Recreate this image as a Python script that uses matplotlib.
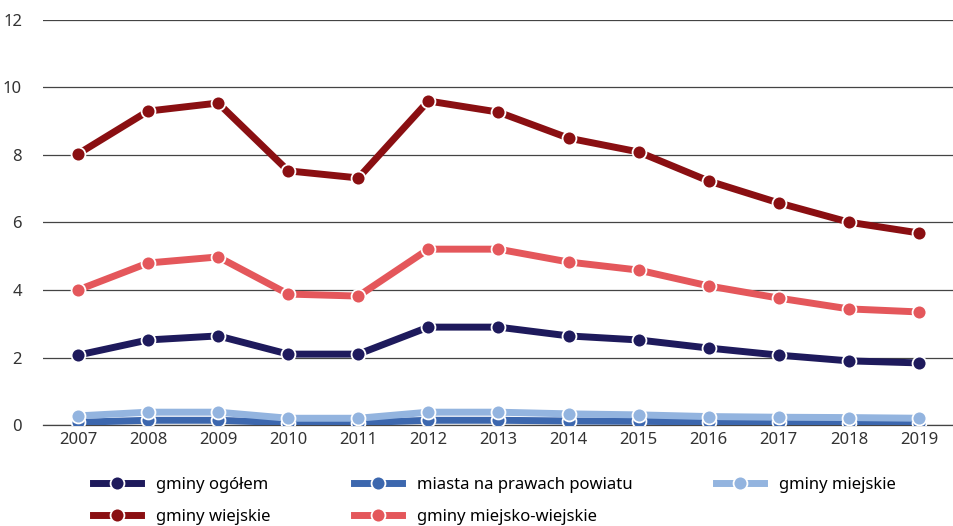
import matplotlib.pyplot as plt

plt.rcParams['font.family'] = ['Noto Sans', 'DejaVu Sans']

years = list(range(2007, 2020))

gminy_ogolem = [2.07, 2.52, 2.64, 2.10, 2.10, 2.90, 2.90, 2.64, 2.52, 2.28, 2.07, 1.90, 1.84]
miasta_npp = [0.08, 0.14, 0.14, 0.07, 0.07, 0.14, 0.14, 0.12, 0.11, 0.09, 0.08, 0.07, 0.06]
gminy_miejskie = [0.27, 0.38, 0.38, 0.20, 0.20, 0.38, 0.38, 0.33, 0.30, 0.25, 0.23, 0.22, 0.20]
gminy_wiejskie = [8.03, 9.30, 9.54, 7.53, 7.32, 9.60, 9.27, 8.50, 8.09, 7.23, 6.58, 6.01, 5.69]
gminy_mw = [4.00, 4.80, 4.98, 3.88, 3.82, 5.21, 5.21, 4.83, 4.59, 4.12, 3.76, 3.44, 3.35]

labels = ['gminy ogółem', 'miasta na prawach powiatu', 'gminy miejskie',
          'gminy wiejskie', 'gminy miejsko-wiejskie']
colors = ['#1e1a5c', '#3c67ae', '#93b4df', '#8a0f12', '#e4575b']

fig = plt.figure(figsize=(9.54, 5.26), dpi=100)
ax = fig.add_axes([0.045, 0.192, 0.955, 0.77])

# kolejność rysowania: niebieskie na dole, czerwone na górze
series = [
    (miasta_npp, 1),
    (gminy_miejskie, 2),
    (gminy_ogolem, 0),
    (gminy_mw, 4),
    (gminy_wiejskie, 3),
]
handles = {}
for vals, i in series:
    ln, = ax.plot(years, vals, color=colors[i], lw=5, marker='o', ms=10,
                  mec='white', mew=1.3, solid_joinstyle='round', label=labels[i],
                  zorder=3 + i)
    handles[i] = ln

ax.set_xlim(2006.5, 2019.5)
ax.set_ylim(0, 12)
ax.set_yticks([0, 2, 4, 6, 8, 10, 12])
ax.set_xticks(years)
ax.grid(axis='y', color='#444444', lw=0.9)
ax.set_axisbelow(True)
for s in ['top', 'right', 'left']:
    ax.spines[s].set_visible(False)
ax.spines['bottom'].set_color('#444444')
ax.spines['bottom'].set_linewidth(0.9)
ax.tick_params(length=0, labelsize=12, colors='#333333', pad=5)
ax.tick_params(axis='y', pad=15)

order = [0, 3, 1, 4, 2]
fig.legend([handles[i] for i in order], [labels[i] for i in order],
           ncol=3, loc='upper left', bbox_to_anchor=(0.097, 0.094),
           frameon=False, fontsize=12, handlelength=2.9, handletextpad=0.9,
           columnspacing=5.0, labelspacing=1.0, borderpad=0, borderaxespad=0)

fig.savefig('out.png', dpi=100)
